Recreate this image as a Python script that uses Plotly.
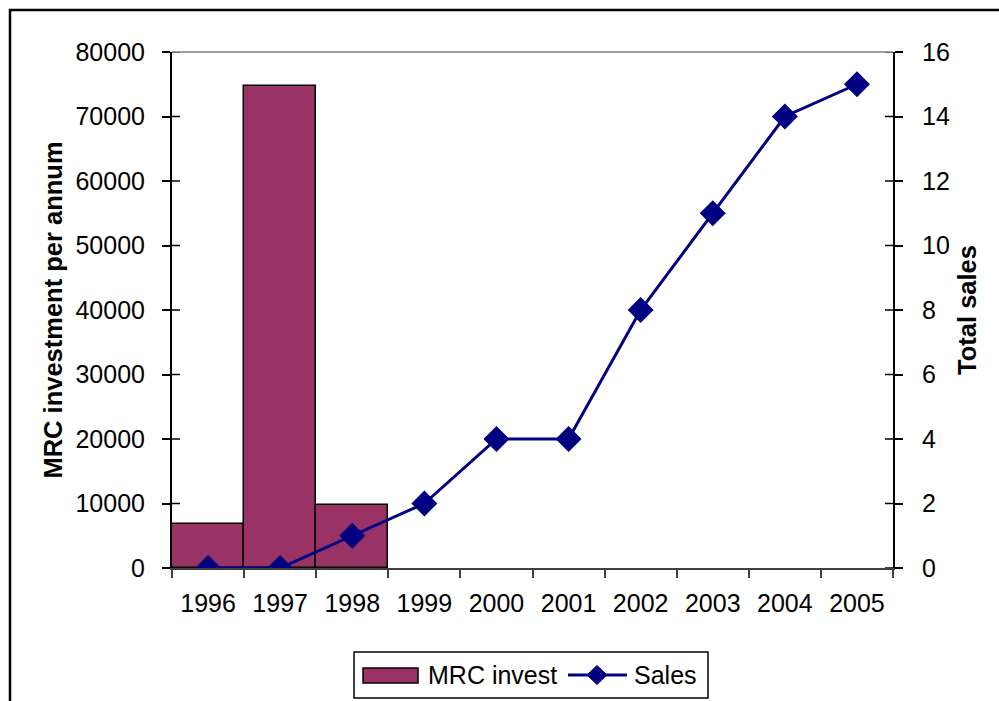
import plotly.graph_objects as go

# Yearly figures
years = ["1996", "1997", "1998", "1999", "2000", "2001", "2002", "2003", "2004", "2005"]
mrc_invest = [6800, 74800, 9700, None, None, None, None, None, None, None]
sales = [0, 0, 1, 2, 4, 4, 8, 11, 14, 15]

left_ticks = [0, 10000, 20000, 30000, 40000, 50000, 60000, 70000, 80000]
right_ticks = [0, 2, 4, 6, 8, 10, 12, 14, 16]

BAR_COLOR = "#993366"
LINE_COLOR = "#000080"
FONT = "Liberation Sans, Arial, sans-serif"
W, H = 999, 701
ML, MR, MT, MB = 172, 106, 52, 133
PW = W - ML - MR
PH = H - MT - MB


def px(x):
    """pixel column -> paper x"""
    return (x - ML) / PW


def py(y):
    """pixel row -> paper y"""
    return (MT + PH - y) / PH


fig = go.Figure()
fig.add_trace(go.Bar(
    x=years, y=mrc_invest, name="MRC invest", width=1.0,
    marker=dict(color=BAR_COLOR, line=dict(color="black", width=1.5)),
    yaxis="y", showlegend=False,
))
fig.add_trace(go.Scatter(
    x=years, y=sales, name="Sales", mode="lines+markers",
    line=dict(color=LINE_COLOR, width=3),
    marker=dict(symbol="diamond", size=20, color=LINE_COLOR),
    yaxis="y2", showlegend=False,
))

shapes = []
# cross-style tick marks: inner half drawn as short lines
tl = 8 / PW
for v in left_ticks:
    shapes.append(dict(type="line", xref="paper", yref="y", x0=0, x1=tl, y0=v, y1=v,
                       line=dict(color="black", width=1.5)))
for v in right_ticks:
    shapes.append(dict(type="line", xref="paper", yref="y2", x0=1 - tl, x1=1, y0=v, y1=v,
                       line=dict(color="black", width=1.5)))
# top edge of plot area
shapes.append(dict(type="line", xref="paper", yref="paper", x0=0, x1=1, y0=1, y1=1,
                   line=dict(color="#808080", width=1.5)))
# outer chart border
shapes.append(dict(type="rect", xref="paper", yref="paper",
                   x0=px(10), x1=px(W + 20), y0=py(H + 20), y1=py(10),
                   line=dict(color="black", width=2.5), fillcolor="rgba(0,0,0,0)", layer="below"))

# legend box
shapes.append(dict(type="rect", xref="paper", yref="paper",
                   x0=px(354), x1=px(708), y0=py(698), y1=py(652),
                   line=dict(color="black", width=1.5), fillcolor="white"))
# bar swatch
shapes.append(dict(type="rect", xref="paper", yref="paper",
                   x0=px(363), x1=px(418), y0=py(683), y1=py(668),
                   line=dict(color="black", width=1.5), fillcolor=BAR_COLOR))
# line swatch with diamond
shapes.append(dict(type="line", xref="paper", yref="paper",
                   x0=px(568), x1=px(627), y0=py(675), y1=py(675),
                   line=dict(color=LINE_COLOR, width=3)))
cx, cy, hw, hh = 597, 675, 10, 9.5
shapes.append(dict(type="path", xref="paper", yref="paper",
                   path=(f"M {px(cx - hw)},{py(cy)} L {px(cx)},{py(cy - hh)} "
                         f"L {px(cx + hw)},{py(cy)} L {px(cx)},{py(cy + hh)} Z"),
                   line=dict(color=LINE_COLOR, width=1), fillcolor=LINE_COLOR))

annotations = [
    dict(text="MRC invest", xref="paper", yref="paper", x=px(426), y=py(675),
         xanchor="left", yanchor="middle", showarrow=False, font=dict(size=25)),
    dict(text="Sales", xref="paper", yref="paper", x=px(632), y=py(675),
         xanchor="left", yanchor="middle", showarrow=False, font=dict(size=25)),
]

fig.update_layout(
    width=W, height=H,
    margin=dict(l=ML, r=MR, t=MT, b=MB, autoexpand=False),
    paper_bgcolor="white", plot_bgcolor="white",
    font=dict(family=FONT, size=25, color="black"),
    showlegend=False,
    bargap=0,
    shapes=shapes,
    annotations=annotations,
    xaxis=dict(
        type="category", range=[-0.5, 9.5],
        showline=True, linecolor="#404040", linewidth=1.5,
        ticks="outside", tickson="boundaries", ticklen=8, tickcolor="#404040", tickwidth=1.5,
        showgrid=False, zeroline=False,
        ticklabelstandoff=12,
        tickfont=dict(size=25),
    ),
    yaxis=dict(
        range=[0, 80000], tickvals=left_ticks, tickformat="d",
        showline=True, linecolor="black", linewidth=2,
        ticks="outside", ticklen=8, tickcolor="black", tickwidth=1.5,
        showgrid=False, zeroline=False,
        ticklabelstandoff=12,
        title=dict(text="<b>MRC investment per annum</b>", font=dict(size=25.5), standoff=6),
    ),
    yaxis2=dict(
        range=[0, 16], tickvals=right_ticks, overlaying="y", side="right",
        showline=True, linecolor="black", linewidth=2,
        ticks="outside", ticklen=8, tickcolor="black", tickwidth=1.5,
        showgrid=False, zeroline=False,
        ticklabelstandoff=14,
        title=dict(text="<b>Total sales</b>", font=dict(size=25.5), standoff=9),
    ),
)

fig.write_html("out.html")
